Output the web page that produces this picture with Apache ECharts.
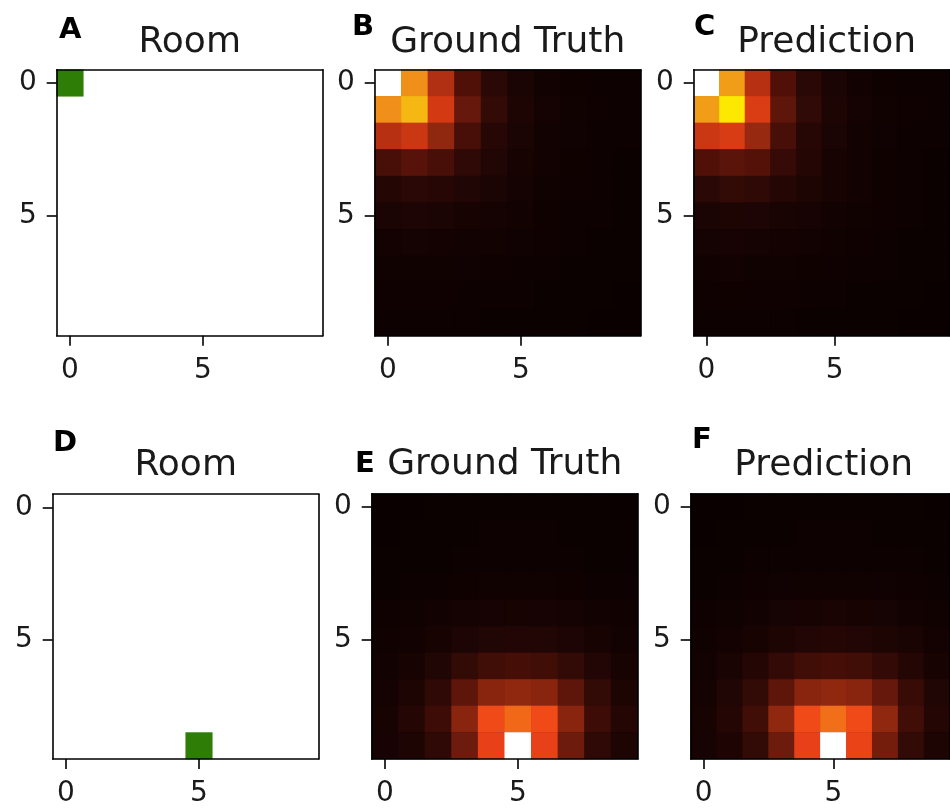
<!DOCTYPE html>
<html>
<head>
<meta charset="utf-8">
<script src="https://cdn.jsdelivr.net/npm/echarts@6/dist/echarts.min.js"></script>
<style>
html,body{margin:0;padding:0;background:#fff;}
#chart{width:950px;height:808px;}
</style>
</head>
<body>
<div id="chart"></div>
<script>
// ---- data ----
const categories = ['0','1','2','3','4','5','6','7','8','9'];
const tickLabels = ['0','5'];
const panelLetters = ['A','B','C','D','E','F'];
const panelTitles = ['Room','Ground Truth','Prediction','Room','Ground Truth','Prediction'];

// agent cell [x, y]
const roomTop = [[0, 0]];
const roomBottom = [[5, 9]];

// rows (y = 0..9), columns (x = 0..9)
const gtTop = [
  [1.00, 0.58, 0.25, 0.11, 0.06, 0.035, 0.02, 0.012, 0.008, 0.006],
  [0.58, 0.64, 0.32, 0.14, 0.07, 0.04, 0.025, 0.015, 0.01, 0.007],
  [0.26, 0.30, 0.20, 0.10, 0.055, 0.035, 0.02, 0.013, 0.009, 0.006],
  [0.10, 0.12, 0.10, 0.065, 0.045, 0.03, 0.02, 0.012, 0.008, 0.005],
  [0.05, 0.06, 0.055, 0.045, 0.035, 0.025, 0.015, 0.01, 0.007, 0.005],
  [0.035, 0.038, 0.035, 0.03, 0.025, 0.02, 0.012, 0.008, 0.006, 0.004],
  [0.022, 0.025, 0.022, 0.02, 0.017, 0.013, 0.01, 0.007, 0.005, 0.003],
  [0.015, 0.016, 0.015, 0.013, 0.011, 0.009, 0.007, 0.005, 0.004, 0.003],
  [0.01, 0.011, 0.01, 0.009, 0.008, 0.006, 0.005, 0.004, 0.003, 0.002],
  [0.007, 0.008, 0.007, 0.006, 0.005, 0.004, 0.003, 0.003, 0.002, 0.0]
];
const predTop = [
  [1.00, 0.60, 0.26, 0.11, 0.06, 0.035, 0.02, 0.012, 0.008, 0.006],
  [0.60, 0.72, 0.34, 0.13, 0.068, 0.04, 0.025, 0.015, 0.01, 0.007],
  [0.30, 0.33, 0.21, 0.10, 0.055, 0.035, 0.02, 0.013, 0.009, 0.006],
  [0.11, 0.125, 0.115, 0.075, 0.05, 0.03, 0.02, 0.012, 0.008, 0.005],
  [0.06, 0.07, 0.065, 0.05, 0.04, 0.03, 0.02, 0.012, 0.008, 0.005],
  [0.035, 0.04, 0.038, 0.033, 0.028, 0.02, 0.015, 0.01, 0.007, 0.005],
  [0.025, 0.028, 0.025, 0.022, 0.018, 0.014, 0.01, 0.007, 0.005, 0.004],
  [0.016, 0.017, 0.016, 0.014, 0.012, 0.01, 0.008, 0.006, 0.004, 0.003],
  [0.011, 0.012, 0.011, 0.01, 0.008, 0.007, 0.005, 0.004, 0.003, 0.002],
  [0.008, 0.008, 0.007, 0.006, 0.005, 0.004, 0.003, 0.003, 0.002, 0.0]
];
const gtBottom = [
  [0.0, 0.002, 0.003, 0.004, 0.005, 0.005, 0.005, 0.004, 0.003, 0.002],
  [0.002, 0.003, 0.004, 0.005, 0.006, 0.006, 0.006, 0.005, 0.004, 0.003],
  [0.003, 0.004, 0.005, 0.007, 0.008, 0.008, 0.008, 0.007, 0.005, 0.004],
  [0.005, 0.007, 0.009, 0.012, 0.014, 0.015, 0.014, 0.012, 0.009, 0.007],
  [0.01, 0.015, 0.02, 0.025, 0.028, 0.03, 0.028, 0.025, 0.02, 0.015],
  [0.015, 0.02, 0.03, 0.038, 0.045, 0.048, 0.045, 0.038, 0.03, 0.02],
  [0.02, 0.03, 0.045, 0.07, 0.09, 0.095, 0.09, 0.07, 0.048, 0.03],
  [0.025, 0.04, 0.065, 0.13, 0.19, 0.20, 0.19, 0.13, 0.07, 0.04],
  [0.03, 0.05, 0.085, 0.19, 0.47, 0.52, 0.47, 0.19, 0.085, 0.05],
  [0.028, 0.04, 0.065, 0.15, 0.43, 1.00, 0.43, 0.15, 0.065, 0.04]
];
const predBottom = [
  [0.0, 0.002, 0.003, 0.004, 0.005, 0.005, 0.005, 0.004, 0.003, 0.002],
  [0.002, 0.003, 0.004, 0.005, 0.006, 0.006, 0.006, 0.005, 0.004, 0.003],
  [0.003, 0.004, 0.006, 0.007, 0.008, 0.009, 0.008, 0.007, 0.006, 0.004],
  [0.005, 0.007, 0.01, 0.013, 0.015, 0.016, 0.015, 0.013, 0.01, 0.007],
  [0.01, 0.015, 0.02, 0.026, 0.03, 0.032, 0.03, 0.026, 0.02, 0.015],
  [0.015, 0.022, 0.03, 0.04, 0.048, 0.05, 0.048, 0.04, 0.032, 0.022],
  [0.02, 0.032, 0.05, 0.072, 0.09, 0.095, 0.09, 0.072, 0.05, 0.03],
  [0.025, 0.045, 0.07, 0.13, 0.19, 0.20, 0.19, 0.14, 0.08, 0.045],
  [0.03, 0.05, 0.09, 0.20, 0.47, 0.53, 0.47, 0.20, 0.09, 0.05],
  [0.028, 0.042, 0.07, 0.15, 0.43, 1.00, 0.44, 0.16, 0.07, 0.04]
];

// ---- colormap (hot-like, as it appears in the picture) ----
const cmapPoints = [
  [0.00, '#0a0000'], [0.035, '#1a0404'], [0.06, '#2a0806'], [0.11, '#501008'],
  [0.20, '#902810'], [0.26, '#b83012'], [0.33, '#d83c14'], [0.43, '#e84018'],
  [0.47, '#f04a18'], [0.52, '#f06818'], [0.58, '#f0901a'], [0.64, '#f5b812'],
  [0.72, '#fce800'], [0.86, '#fff880'], [1.00, '#ffffff']
];
function hex2rgb(h) { return [1, 3, 5].map(i => parseInt(h.substr(i, 2), 16)); }
function cmap(t) {
  for (let i = 1; i < cmapPoints.length; i++) {
    const [t1, c1] = cmapPoints[i];
    const [t0, c0] = cmapPoints[i - 1];
    if (t <= t1) {
      const f = (t - t0) / (t1 - t0);
      const a = hex2rgb(c0), b = hex2rgb(c1);
      return 'rgb(' + a.map((v, k) => Math.round(v + (b[k] - v) * f)).join(',') + ')';
    }
  }
  return '#ffffff';
}
const cmapStops = [];
for (let i = 0; i <= 200; i++) cmapStops.push(cmap(i / 200));

// ---- layout ----
const gridBoxes = [
  {left: 56.7, top: 69.7}, {left: 374.7, top: 69.7}, {left: 693.7, top: 69.7},
  {left: 52.7, top: 494.2}, {left: 371.7, top: 493.7}, {left: 690.7, top: 493.7}
];
const SIZE = 266;
const isHeat = [false, true, true, false, true, true];
const letterPos = [[59, 38], [352, 35], [694, 35], [53, 451], [355, 472], [692, 448]];
const titlePos = [[189.7, 52], [507.7, 52], [826.7, 52], [185.7, 475], [504.7, 474], [823.7, 475]];

function toCells(m) {
  const out = [];
  for (let y = 0; y < m.length; y++)
    for (let x = 0; x < m[y].length; x++) out.push([x, y, m[y][x]]);
  return out;
}
function toAgent(list) { return list.map(p => [p[0], p[1], 1]); }

const textColor = '#1a1a1a';
const grids = [], xAxes = [], yAxes = [], series = [];
const isTick = (idx) => tickLabels.indexOf(categories[idx]) >= 0;
const panelData = [toAgent(roomTop), toCells(gtTop), toCells(predTop),
                   toAgent(roomBottom), toCells(gtBottom), toCells(predBottom)];

gridBoxes.forEach((g, i) => {
  grids.push({left: g.left, top: g.top, width: SIZE, height: SIZE, containLabel: false,
    show: isHeat[i], backgroundColor: isHeat[i] ? '#0a0000' : 'transparent', borderWidth: 0});
  const lineStyle = {color: '#000', width: 1.6};
  xAxes.push({
    type: 'category', gridIndex: i, data: categories, position: 'bottom', z: 10,
    axisLine: {show: true, lineStyle},
    axisTick: {show: true, alignWithLabel: true, length: 10, interval: (idx) => isTick(idx), lineStyle},
    axisLabel: {show: true, interval: (idx) => isTick(idx), margin: 21, fontSize: 28,
      color: textColor, fontFamily: 'DejaVu Sans'},
    splitLine: {show: false}
  });
  xAxes.push({
    type: 'category', gridIndex: i, data: categories, position: 'top', z: 10,
    axisLine: {show: true, lineStyle}, axisTick: {show: false}, axisLabel: {show: false}, splitLine: {show: false}
  });
  yAxes.push({
    type: 'category', gridIndex: i, data: categories, inverse: true, position: 'left', z: 10,
    axisLine: {show: true, lineStyle},
    axisTick: {show: true, alignWithLabel: true, length: 10, interval: (idx) => isTick(idx), lineStyle},
    axisLabel: {show: true, interval: (idx) => isTick(idx), margin: 20, fontSize: 28,
      color: textColor, fontFamily: 'DejaVu Sans'},
    splitLine: {show: false}
  });
  yAxes.push({
    type: 'category', gridIndex: i, data: categories, inverse: true, position: 'right', z: 10,
    axisLine: {show: true, lineStyle}, axisTick: {show: false}, axisLabel: {show: false}, splitLine: {show: false}
  });
  series.push({
    type: 'heatmap', xAxisIndex: 2 * i, yAxisIndex: 2 * i, data: panelData[i],
    emphasis: {disabled: true}, progressive: 0, itemStyle: {borderWidth: 0}
  });
});

const graphics = [];
panelLetters.forEach((L, i) => {
  graphics.push({type: 'text', x: letterPos[i][0], y: letterPos[i][1] + 7,
    style: {text: L, font: 'bold 29px "DejaVu Sans"', fill: '#000', textAlign: 'left', textVerticalAlign: 'bottom'}, z: 20});
});
panelTitles.forEach((t, i) => {
  graphics.push({type: 'text', x: titlePos[i][0], y: titlePos[i][1] + 9,
    style: {text: t, font: '36px "DejaVu Sans"', fill: textColor, textAlign: 'center', textVerticalAlign: 'bottom'}, z: 20});
});

const chart = echarts.init(document.getElementById('chart'), null, {renderer: 'canvas'});
chart.setOption({
  animation: false,
  backgroundColor: '#fff',
  grid: grids,
  xAxis: xAxes,
  yAxis: yAxes,
  visualMap: [
    {type: 'continuous', min: 0, max: 1, show: false, seriesIndex: [1, 2, 4, 5], inRange: {color: cmapStops}},
    {type: 'piecewise', show: false, seriesIndex: [0, 3], pieces: [{value: 1, color: '#2e7d06'}]}
  ],
  series: series,
  graphic: graphics
});
</script>
</body>
</html>
